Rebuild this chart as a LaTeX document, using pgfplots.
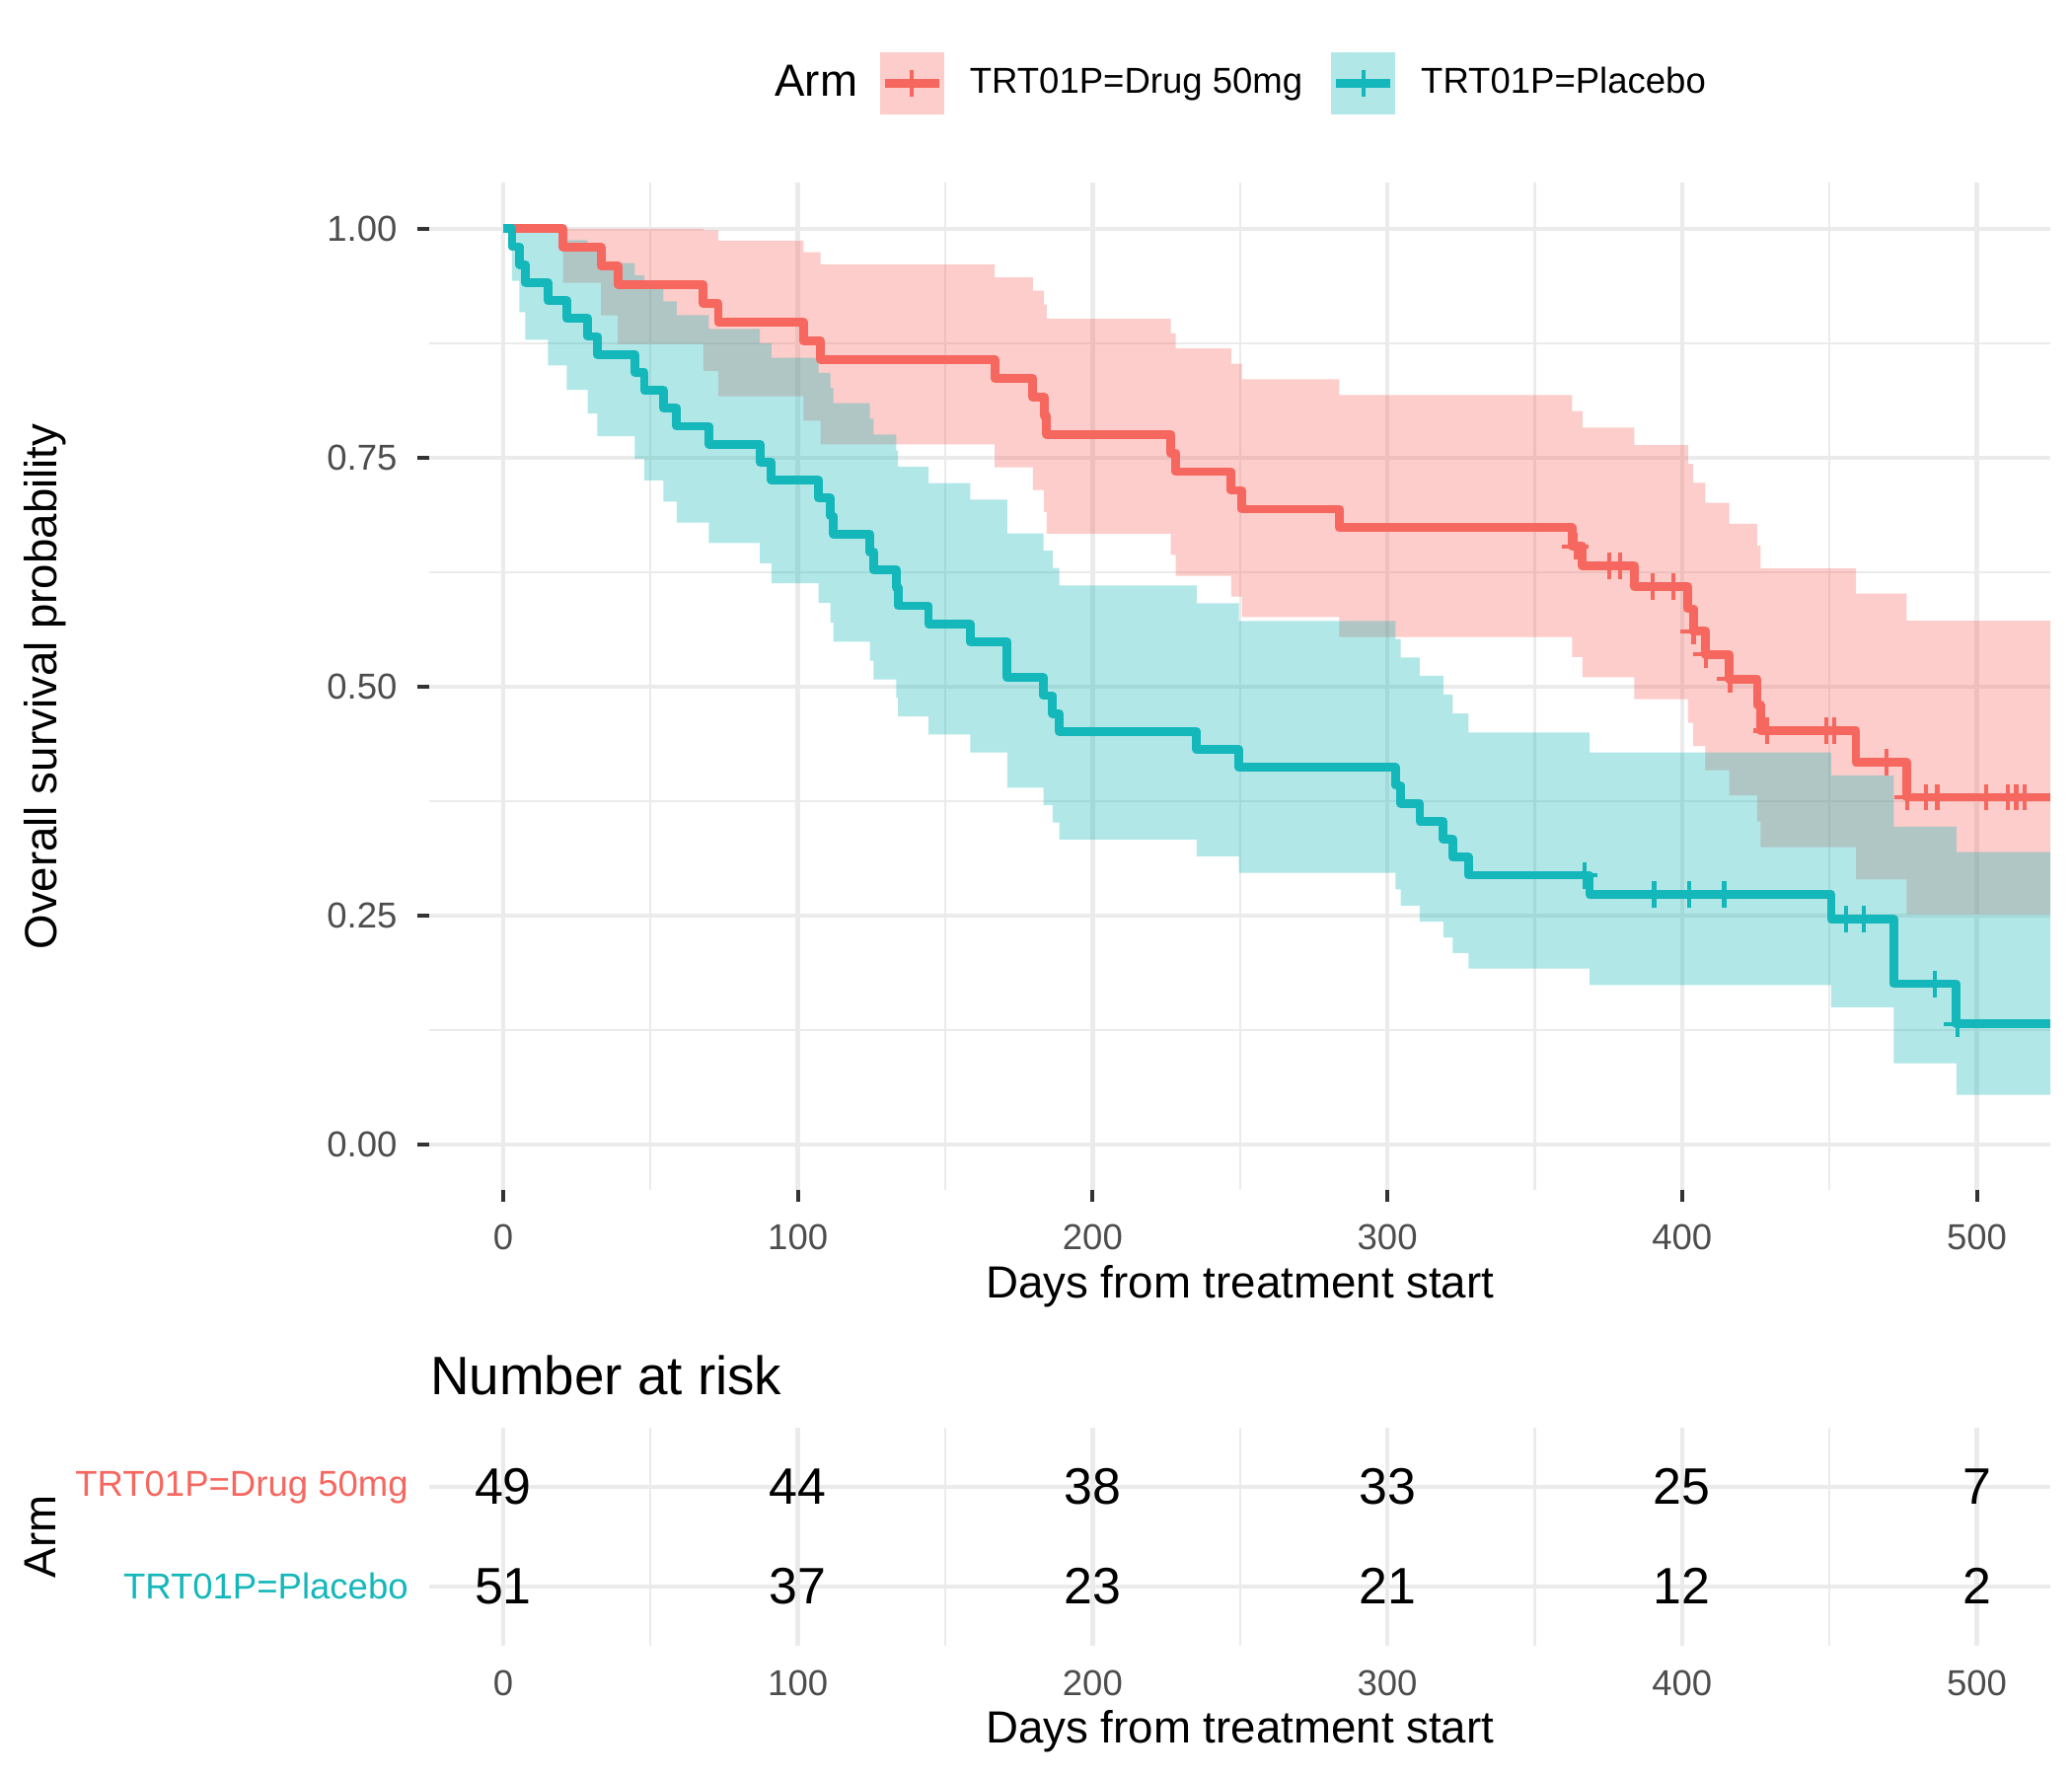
\documentclass[border=0pt]{standalone}
\usepackage{fontspec}
\setmainfont{Liberation Sans}
\usepackage{pgfplots}
\pgfplotsset{compat=1.18}
\usepgfplotslibrary{fillbetween}
\definecolor{redc}{HTML}{F6675F}
\definecolor{bluec}{HTML}{14B7BA}
\definecolor{grid92}{HTML}{EBEBEB}
\definecolor{grey30}{HTML}{4D4D4D}
\definecolor{tickc}{HTML}{333333}
\pgfplotsset{
  kmbase/.style={
    scale only axis, width=395.78pt,
    xmin=-25, xmax=525,
    xtick={0,100,200,300,400,500},
    xticklabels={0,100,200,300,400,500},
    minor xtick={50,150,250,350,450},
    grid=both,
    major grid style={line width=1.07pt, draw=grid92},
    minor grid style={line width=0.53pt, draw=grid92},
    axis line style={draw=none},
    major tick length=0pt, minor tick length=0pt,
    /pgf/number format/assume math mode=true,
    tick label style={font=\fontsize{8.8}{10}\selectfont, text=grey30, inner sep=0pt},
    label style={font=\fontsize{11}{13}\selectfont, inner sep=0pt},
  }
}
\begin{document}
\begin{tikzpicture}
% ---------------- main KM panel ----------------
\begin{axis}[kmbase,
  at={(104.86pt,142.98pt)}, anchor=south west,
  height=245.98pt,
  ymin=-0.05, ymax=1.05,
  ytick={0,0.25,0.5,0.75,1},
  yticklabels={0.00,0.25,0.50,0.75,1.00},
  minor ytick={0.125,0.375,0.625,0.875},
  xticklabel style={anchor=north, yshift=-8.07pt},
  yticklabel style={anchor=east, xshift=-7.71pt},
  xlabel={Days from treatment start},
  xlabel style={at={(axis description cs:0.5,-0.10676)}, anchor=base},
  ylabel={Overall survival probability},
  ylabel style={at={(axis description cs:-0.23025,0.5)}, anchor=base},
  clip=false,
  legend columns=3,
  legend cell align=left,
  legend style={at={(axis description cs:0.2131,1.0990)}, anchor=west,
    draw=none, fill=none, inner sep=0pt, outer sep=0pt,
    font=\fontsize{8.8}{10}\selectfont,
    nodes={inner sep=0pt}},
]
% band boundaries
\addplot[name path=rU, draw=none, const plot, forget plot] coordinates {(0,1)(20.3,1)(33.2,1)(38.9,1)(67.9,0.99832)(73,0.98685)(101.9,0.97432)(107.7,0.96095)(166.8,0.94691)(179.7,0.93230)(183.5,0.91718)(184.4,0.90162)(226.5,0.88565)(228.2,0.86932)(247,0.85268)(250.6,0.83572)(283.7,0.81846)(362.7,0.80092)(366.2,0.78279)(383.8,0.76362)(402,0.74323)(403.8,0.72240)(407.9,0.70063)(416,0.67779)(425.5,0.65377)(426.6,0.62905)(459,0.60155)(476.2,0.57199)(525,0.57199)};
\addplot[name path=rL, draw=none, const plot, forget plot] coordinates {(0,1)(20.3,0.94080)(33.2,0.90536)(38.9,0.87400)(67.9,0.84482)(73,0.81708)(101.9,0.79040)(107.7,0.76455)(166.8,0.73937)(179.7,0.71479)(183.5,0.69069)(184.4,0.66704)(226.5,0.64380)(228.2,0.62090)(247,0.59835)(250.6,0.57611)(283.7,0.55416)(362.7,0.53250)(366.2,0.51026)(383.8,0.48637)(402,0.46054)(403.8,0.43515)(407.9,0.40882)(416,0.38138)(425.5,0.35269)(426.6,0.32469)(459,0.28931)(476.2,0.25145)(525,0.25145)};
\addplot[name path=bU, draw=none, const plot, forget plot] coordinates {(0,1)(3,1)(5.5,1)(7.5,1)(15.2,0.99837)(21.6,0.98738)(28.7,0.97535)(31.9,0.96256)(44.7,0.94910)(47.9,0.93510)(54.4,0.92063)(58.9,0.90574)(69.8,0.89047)(87.1,0.87486)(91,0.85892)(107,0.84270)(111,0.82621)(112,0.80947)(124.4,0.79247)(125.7,0.77522)(133.4,0.75777)(134,0.74009)(144.3,0.72218)(158.5,0.70407)(171,0.66724)(183.3,0.64853)(186.4,0.62960)(188.7,0.61048)(235.3,0.59116)(249.6,0.57163)(302.8,0.55191)(304.5,0.53196)(311,0.51179)(319,0.49141)(322.2,0.47081)(327.5,0.44996)(368.6,0.42804)(450.6,0.40306)(471.8,0.34700)(493.1,0.31924)(525,0.31924)};
\addplot[name path=bL, draw=none, const plot, forget plot] coordinates {(0,1)(3,0.94307)(5.5,0.90897)(7.5,0.87878)(15.2,0.85067)(21.6,0.82393)(28.7,0.79822)(31.9,0.77329)(44.7,0.74900)(47.9,0.72527)(54.4,0.70201)(58.9,0.67917)(69.8,0.65671)(87.1,0.63459)(91,0.61279)(107,0.59127)(111,0.57003)(112,0.54906)(124.4,0.52834)(125.7,0.50784)(133.4,0.48757)(134,0.46754)(144.3,0.44773)(158.5,0.42812)(171,0.38951)(183.3,0.37052)(186.4,0.35174)(188.7,0.33315)(235.3,0.31478)(249.6,0.29660)(302.8,0.27865)(304.5,0.26091)(311,0.24340)(319,0.22611)(322.2,0.20906)(327.5,0.19225)(368.6,0.17426)(450.6,0.14990)(471.8,0.08883)(493.1,0.05432)(525,0.05432)};
% survival lines
\addplot[redc, line width=2.13pt, line join=round, const plot, forget plot] coordinates {(0,1)(20.3,0.97959)(33.2,0.95918)(38.9,0.93878)(67.9,0.91837)(73,0.89796)(101.9,0.87755)(107.7,0.85714)(166.8,0.83673)(179.7,0.81633)(183.5,0.79592)(184.4,0.77551)(226.5,0.75510)(228.2,0.73469)(247,0.71429)(250.6,0.69388)(283.7,0.67347)(362.7,0.65306)(366.2,0.63200)(383.8,0.60943)(402,0.58505)(403.8,0.56067)(407.9,0.53519)(416,0.50843)(425.5,0.48019)(426.6,0.45194)(459,0.41718)(476.2,0.37925)(525,0.37925)};
\addplot[bluec, line width=2.13pt, line join=round, const plot, forget plot] coordinates {(0,1)(3,0.98039)(5.5,0.96078)(7.5,0.94118)(15.2,0.92157)(21.6,0.90196)(28.7,0.88235)(31.9,0.86275)(44.7,0.84314)(47.9,0.82353)(54.4,0.80392)(58.9,0.78431)(69.8,0.76471)(87.1,0.74510)(91,0.72549)(107,0.70588)(111,0.68627)(112,0.66667)(124.4,0.64706)(125.7,0.62745)(133.4,0.60784)(134,0.58824)(144.3,0.56863)(158.5,0.54902)(171,0.50980)(183.3,0.49020)(186.4,0.47059)(188.7,0.45098)(235.3,0.43137)(249.6,0.41176)(302.8,0.39216)(304.5,0.37255)(311,0.35294)(319,0.33333)(322.2,0.31373)(327.5,0.29412)(368.6,0.27311)(450.6,0.24580)(471.8,0.17557)(493.1,0.13168)(525,0.13168)};
% confidence ribbons
\addplot[redc, fill opacity=0.33, draw=none, forget plot] fill between[of=rU and rL];
\addplot[bluec, fill opacity=0.33, draw=none, forget plot] fill between[of=bU and bL];
% censor marks
\addplot[only marks, mark=+, mark size=3.25pt, redc, mark options={line width=1pt}, forget plot] coordinates {(363.8,0.65306)(375.4,0.632)(378.9,0.632)(389.9,0.60943)(397,0.60943)(403.9,0.56067)(408.1,0.53519)(416.3,0.50843)(428.8,0.45194)(448.9,0.45194)(451.7,0.45194)(469.5,0.41718)(476.5,0.37925)(482.7,0.37925)(486.6,0.37925)(503.3,0.37925)(510.4,0.37925)(513.4,0.37925)(516.1,0.37925)};
\addplot[only marks, mark=+, mark size=3.25pt, bluec, mark options={line width=1pt}, forget plot] coordinates {(366.8,0.29412)(390.5,0.27311)(402.4,0.27311)(414.3,0.27311)(455.7,0.2458)(461.7,0.2458)(485.9,0.17557)(493.4,0.13168)};
% tick marks
\pgfplotsinvokeforeach{0,0.25,0.5,0.75,1}{\draw[tickc, line width=0.96pt] (axis cs:-25,#1) -- ++(-2.85pt,0pt);}
\pgfplotsinvokeforeach{0,100,200,300,400,500}{\draw[tickc, line width=0.96pt] (axis cs:#1,-0.05) -- ++(0pt,-2.85pt);}
% legend
\addlegendimage{empty legend}
\addlegendentry{\fontsize{11}{13}\selectfont\smash{Arm}\rule{0pt}{7.88pt}\rule{5.5pt}{0pt}}
\addlegendimage{legend image code/.code={
  \path[fill=redc, fill opacity=0.33, draw=none] (0pt,-7.6pt) rectangle (15.6pt,7.6pt);
  \path[draw=redc, line width=2.13pt] (1.2pt,0pt) -- (14.4pt,0pt);
  \path[draw=redc, line width=1pt] (7.8pt,-3.25pt) -- (7.8pt,3.25pt);}}
\addlegendentry{\rule{6.3pt}{0pt}\smash{TRT01P=Drug 50mg}\rule{0pt}{6.3pt}\rule{7pt}{0pt}}
\addlegendimage{legend image code/.code={
  \path[fill=bluec, fill opacity=0.33, draw=none] (0pt,-7.6pt) rectangle (15.6pt,7.6pt);
  \path[draw=bluec, line width=2.13pt] (1.2pt,0pt) -- (14.4pt,0pt);
  \path[draw=bluec, line width=1pt] (7.8pt,-3.25pt) -- (7.8pt,3.25pt);}}
\addlegendentry{\rule{6.3pt}{0pt}\smash{TRT01P=Placebo}\rule{0pt}{6.3pt}}
\end{axis}
% ---------------- risk table ----------------
\begin{axis}[kmbase,
  at={(104.86pt,31.73pt)}, anchor=south west,
  height=53.38pt,
  ymin=0.4, ymax=2.6,
  ytick={1,2},
  yticklabels={\textcolor{bluec}{TRT01P=Placebo},\textcolor{redc}{TRT01P=Drug 50mg}},
  xticklabel style={anchor=north, yshift=-5.64pt},
  yticklabel style={anchor=east, xshift=-5.0pt},
  xlabel={Days from treatment start},
  xlabel style={at={(axis description cs:0.5,-0.44399)}, anchor=base},
  ylabel={Arm},
  ylabel style={at={(axis description cs:-0.23025,0.5)}, anchor=base},
  title={Number at risk},
  every axis title shift=0pt,
  title style={at={(axis description cs:0,1.1521)}, anchor=base west, inner sep=0pt, font=\fontsize{13.2}{15}\selectfont},
  clip=false,
]
\addplot[draw=none, mark=none, nodes near coords, point meta=explicit symbolic, nodes near coords align=center,
  every node near coord/.append style={font=\fontsize{12.5}{14}\selectfont, inner sep=0pt, text=black}]
  coordinates {(0,2)[49] (100,2)[44] (200,2)[38] (300,2)[33] (400,2)[25] (500,2)[7]};
\addplot[draw=none, mark=none, nodes near coords, point meta=explicit symbolic, nodes near coords align=center,
  every node near coord/.append style={font=\fontsize{12.5}{14}\selectfont, inner sep=0pt, text=black}]
  coordinates {(0,1)[51] (100,1)[37] (200,1)[23] (300,1)[21] (400,1)[12] (500,1)[2]};
\end{axis}
\pgfresetboundingbox
\path[use as bounding box] (0,0) rectangle (505.89pt,433.62pt);
\end{tikzpicture}
\end{document}
